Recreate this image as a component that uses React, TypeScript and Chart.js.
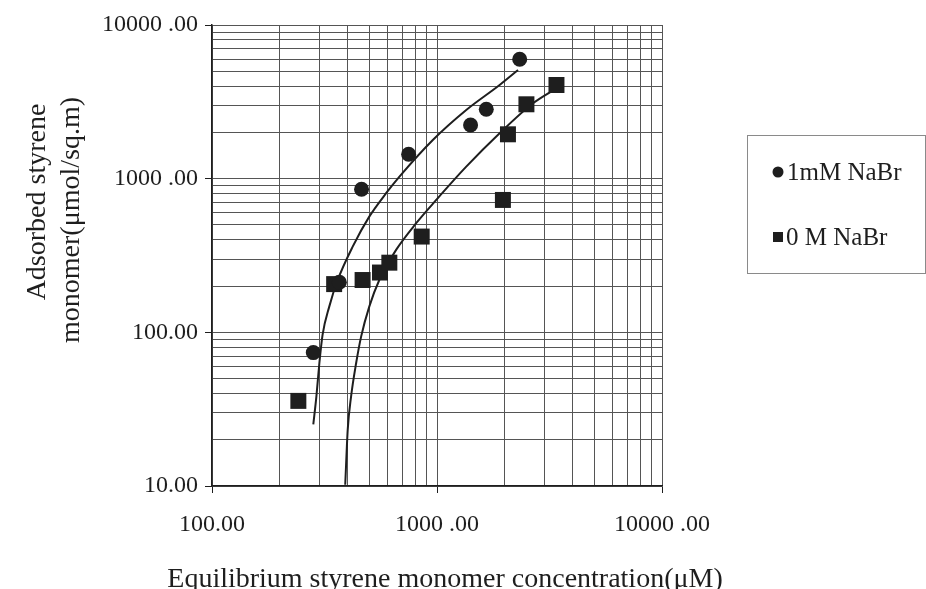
import React, { useEffect, useRef } from "react";
import { Chart, registerables } from "chart.js";

Chart.register(...registerables);

// ---- data ----
const circleLabel = "1mM NaBr";
const circleX = [282, 368, 462, 748, 1410, 1656, 2331];
const circleY = [73.8, 212, 853, 1442, 2235, 2828, 5984];

const squareLabel = "0 M NaBr";
const squareX = [242, 349, 467, 558, 614, 855, 1963, 2067, 2497, 3396];
const squareY = [35.8, 206, 219, 245, 284, 420, 727, 1944, 3048, 4070];

// fitted curves, points
const curve1X = [282, 291, 300, 310, 332, 362, 422, 500, 594, 681, 958, 1349, 1898, 2291];
const curve1Y = [25.2, 38.2, 62.9, 96.2, 147, 219, 361, 566, 804, 1031, 1785, 2799, 4071, 5095];
const curve2X = [391, 401, 415, 437, 460, 500, 554, 658, 808, 992, 1349, 1898, 2671, 3396];
const curve2Y = [10.2, 23.2, 38.2, 62.9, 93.8, 147, 219, 344, 513, 727, 1197, 1974, 3095, 3874];

// axes
const xMajor = [100, 1000, 10000];
const xTickLabels = ["100.00", "1000 .00", "10000 .00"];
const yMajor = [10, 100, 1000, 10000];
const yTickLabels = ["10.00", "100.00", "1000 .00", "10000 .00"];
const minorSteps = [1, 2, 3, 4, 5, 6, 7, 8, 9];

const xTitle = "Equilibrium styrene monomer concentration(\u03bcM)";
const yTitle = ["Adsorbed styrene", "monomer(\u03bcmol/sq.m)"];

const INK = "#1e1e1e";
const GRID = "#555555";
const FONT = '"Liberation Serif", "Times New Roman", serif';

function gridValues(majors: number[]): number[] {
  const out: number[] = [];
  for (let i = 0; i < majors.length - 1; i++) {
    for (const s of minorSteps) out.push(majors[i] * s);
  }
  out.push(majors[majors.length - 1]);
  return out;
}

function pts(xs: number[], ys: number[]) {
  return xs.map((x, i) => ({ x, y: ys[i] }));
}

const decorPlugin = {
  id: "decor",
  afterDraw(chart: any) {
    const ctx = chart.ctx as CanvasRenderingContext2D;
    ctx.save();
    ctx.fillStyle = INK;
    // x title
    ctx.font = `28px ${FONT}`;
    ctx.textAlign = "center";
    ctx.textBaseline = "alphabetic";
    ctx.fillText(xTitle, 445, 587);
    // y title (two lines, rotated)
    ctx.textBaseline = "middle";
    ctx.save();
    ctx.translate(38, 202);
    ctx.rotate(-Math.PI / 2);
    ctx.fillText(yTitle[0], 0, 0);
    ctx.restore();
    ctx.save();
    ctx.translate(72, 220);
    ctx.rotate(-Math.PI / 2);
    ctx.fillText(yTitle[1], 0, 0);
    ctx.restore();
    // legend box
    ctx.strokeStyle = "#8a8a8a";
    ctx.lineWidth = 1;
    ctx.strokeRect(747.5, 135.5, 178, 138);
    ctx.fillStyle = INK;
    ctx.beginPath();
    ctx.arc(778, 172, 5.5, 0, Math.PI * 2);
    ctx.fill();
    ctx.fillRect(773, 232, 10, 10);
    ctx.font = `25px ${FONT}`;
    ctx.textAlign = "left";
    ctx.textBaseline = "middle";
    ctx.fillText(circleLabel, 787, 173);
    ctx.fillText(squareLabel, 786, 238);
    ctx.restore();
  },
};

export default function App() {
  const ref = useRef<HTMLCanvasElement>(null);
  useEffect(() => {
    if (!ref.current) return;
    const xGrid = gridValues(xMajor);
    const yGrid = gridValues(yMajor);
    const chart = new Chart(ref.current, {
      type: "scatter",
      data: {
        datasets: [
          {
            label: "fit1",
            data: pts(curve1X, curve1Y),
            showLine: true,
            pointRadius: 0,
            borderColor: INK,
            borderWidth: 2,
            cubicInterpolationMode: "monotone",
            order: 2,
          } as any,
          {
            label: "fit2",
            data: pts(curve2X, curve2Y),
            showLine: true,
            pointRadius: 0,
            borderColor: INK,
            borderWidth: 2,
            cubicInterpolationMode: "monotone",
            order: 2,
          } as any,
          {
            label: circleLabel,
            data: pts(circleX, circleY),
            pointStyle: "circle",
            pointRadius: 7.5,
            backgroundColor: INK,
            borderWidth: 0,
            order: 1,
          },
          {
            label: squareLabel,
            data: pts(squareX, squareY),
            pointStyle: "rect",
            pointRadius: 11.3,
            backgroundColor: INK,
            borderWidth: 0,
            order: 1,
          },
        ],
      },
      options: {
        animation: false,
        responsive: false,
        devicePixelRatio: 1,
        layout: { padding: { left: 0, top: 25, right: 264, bottom: 0 } },
        plugins: { legend: { display: false }, tooltip: { enabled: false } },
        scales: {
          x: {
            type: "logarithmic",
            min: 100,
            max: 10000,
            afterBuildTicks: (s: any) => {
              s.ticks = xGrid.map((v) => ({ value: v }));
            },
            afterFit: (s: any) => {
              s.height = 103;
            },
            ticks: {
              autoSkip: false,
              maxRotation: 0,
              padding: 17,
              color: INK,
              font: { family: FONT, size: 24 },
              callback: (v: any) => {
                const i = xMajor.indexOf(Number(v));
                return i >= 0 ? xTickLabels[i] : "";
              },
            },
            grid: {
              color: GRID,
              lineWidth: 1,
              tickLength: 7,
              tickColor: (c: any) =>
                c.tick && xMajor.indexOf(c.tick.value) >= 0 ? INK : "rgba(0,0,0,0)",
            },
            border: { color: INK, width: 1.5 },
          },
          y: {
            type: "logarithmic",
            min: 10,
            max: 10000,
            afterBuildTicks: (s: any) => {
              s.ticks = yGrid.map((v) => ({ value: v }));
            },
            afterFit: (s: any) => {
              s.width = 212;
            },
            ticks: {
              autoSkip: false,
              padding: 7,
              color: INK,
              font: { family: FONT, size: 24 },
              callback: (v: any) => {
                const i = yMajor.indexOf(Number(v));
                return i >= 0 ? yTickLabels[i] : "";
              },
            },
            grid: {
              color: GRID,
              lineWidth: 1,
              tickLength: 7,
              tickColor: (c: any) =>
                c.tick && yMajor.indexOf(c.tick.value) >= 0 ? INK : "rgba(0,0,0,0)",
            },
            border: { color: INK, width: 1.5 },
          },
        },
      },
      plugins: [decorPlugin],
    });
    return () => chart.destroy();
  }, []);
  return (
    <div style={{ position: "absolute", left: 0, top: 0, width: 926, height: 589, background: "#fff" }}>
      <canvas ref={ref} width={926} height={589} style={{ display: "block" }} />
    </div>
  );
}
